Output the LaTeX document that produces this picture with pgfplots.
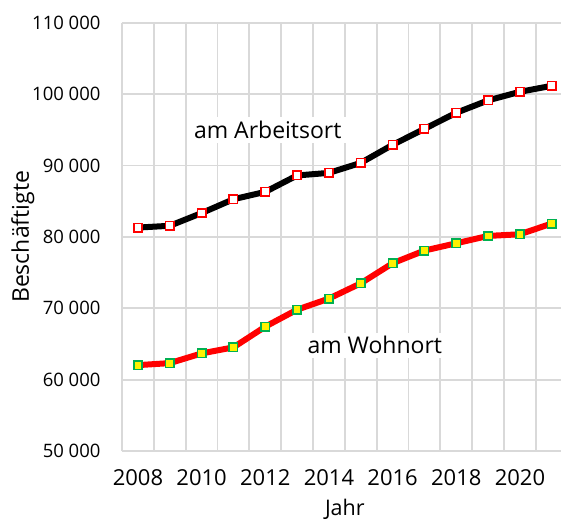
\documentclass[border=0pt]{standalone}
\usepackage{pgfplots}
\pgfplotsset{compat=1.18}
\usepackage{fontspec}
\setmainfont{Open Sans}
\definecolor{gridgray}{RGB}{217,217,217}
\definecolor{mygreen}{RGB}{0,176,80}
\begin{document}
\begin{tikzpicture}
\begin{axis}[
  name=ax,
  scale only axis,
  width=439bp, height=428.3bp,
  xmin=2007.5, xmax=2021.29,
  ymin=50000, ymax=110000,
  axis line style={draw=none},
  xtick={2008,2010,2012,2014,2016,2018,2020},
  xticklabels={2008,2010,2012,2014,2016,2018,2020},
  minor xtick={2007.5,2008.5,2009.5,2010.5,2011.5,2012.5,2013.5,2014.5,2015.5,2016.5,2017.5,2018.5,2019.5,2020.5},
  xminorgrids=true,
  scaled y ticks=false,
  ytick={50000,60000,70000,80000,90000,100000,110000},
  yticklabels={50 000,60 000,70 000,80 000,90 000,100 000,110 000},
  ymajorgrids=true,
  grid style={gridgray, line width=1.8bp},
  minor grid style={gridgray, line width=1.8bp},
  major tick length=0pt, minor tick length=0pt,
  tick style={draw=none},
  x tick label style={font=\fontsize{22bp}{26bp}\selectfont, yshift=-15bp},
  y tick label style={font=\fontsize{18.5bp}{22bp}\selectfont, xshift=-18bp},
  xlabel={Jahr},
  ylabel={Beschäftigte},
  xlabel style={font=\fontsize{21.5bp}{25bp}\selectfont, at={(axis cs:2014.5,50000)}, anchor=north, yshift=-45bp},
  ylabel style={font=\fontsize{23bp}{27bp}\selectfont, at={(rel axis cs:0,0.5)}, anchor=south, yshift=84bp},
  clip=false,
]
\addplot[black, line width=6bp, mark=square*, mark size=4.2bp,
  mark options={fill=white, draw=red, line width=1.6bp}]
coordinates {
(2008,81300) (2009,81550) (2010,83330) (2011,85270) (2012,86300) (2013,88600) (2014,88960)
(2015,90360) (2016,92890) (2017,95130) (2018,97380) (2019,99120) (2020,100320) (2021,101160)
};
\addplot[red, line width=6bp, mark=square*, mark size=4.2bp,
  mark options={fill=yellow, draw=mygreen, line width=1.6bp}]
coordinates {
(2008,62030) (2009,62310) (2010,63670) (2011,64520) (2012,67420) (2013,69800) (2014,71350)
(2015,73490) (2016,76300) (2017,78080) (2018,79100) (2019,80130) (2020,80360) (2021,81870)
};
\node[fill=white, inner sep=4bp, font=\fontsize{23bp}{27bp}\selectfont] at (axis cs:2012.08,94950) {am Arbeitsort};
\node[fill=white, inner sep=4bp, font=\fontsize{23bp}{27bp}\selectfont] at (axis cs:2015.44,64800) {am Wohnort};
\end{axis}
\pgfresetboundingbox
\path ([shift={(-122bp,-71bp)}]ax.south west) rectangle ([shift={(0bp,22.7bp)}]ax.north east);
\end{tikzpicture}
\end{document}
